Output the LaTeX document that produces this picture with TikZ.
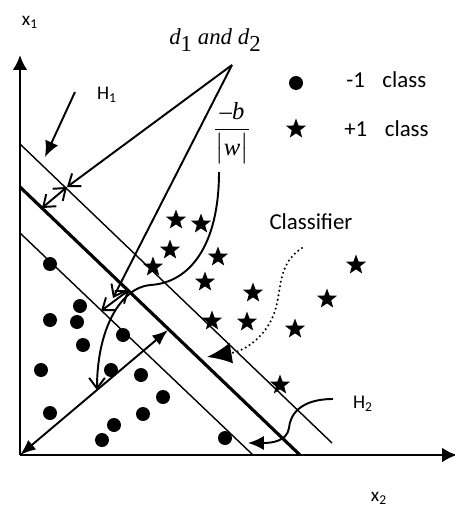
\documentclass[tikz,border=0pt]{standalone}
\usepackage{fontspec}
\setmainfont{Carlito}
\newfontfamily\tms{Liberation Serif}
\usepackage{amsmath}
\usetikzlibrary{arrows.meta,shapes.geometric}

\begin{document}
\begin{tikzpicture}[x=0.02cm,y=-0.02cm,
  every node/.style={font=\fontsize{11}{13}\selectfont,inner sep=0pt},
  lbl/.style={font=\fontsize{13}{15}\selectfont},
  plusstar/.style={star,star points=5,star point ratio=2.4,fill,minimum size=0.42cm,inner sep=0pt},
  minusdot/.style={circle,fill,minimum size=0.28cm,inner sep=0pt},
  axisline/.style={line width=1.6pt,-{Latex[length=8.5pt,width=8.5pt]}},
  hyp/.style={line width=0.8pt},
  marg/.style={line width=1.8pt},
  leader/.style={line width=1.1pt,-{Straight Barb[length=6pt,width=9pt]}},
  gap/.style={line width=1.1pt,{Straight Barb[length=6pt,width=9pt]}-{Straight Barb[length=6pt,width=9pt]}},
  pointer/.style={line width=1.1pt,-{Latex[length=9pt,width=8pt]}}
]
  \useasboundingbox (0,0) rectangle (454,507);
  % axes
  \coordinate (O) at (20,455);
  \coordinate (ytip) at (20,55);
  \coordinate (xtip) at (457,455);
  \draw[axisline] (O) -- (ytip);
  \draw[axisline] (O) -- (xtip);
  \node (x1) at (30,22) {x\textsubscript{1}};
  \node (x2) at (379,498) {x\textsubscript{2}};

  % hyperplanes
  \coordinate (u0) at (20,144); \coordinate (u1) at (332,443);
  \coordinate (m0) at (20,187); \coordinate (m1) at (300,455);
  \coordinate (l0) at (20,233); \coordinate (l1) at (253,455);
  \draw[hyp] (u0) -- (u1);
  \draw[marg] (m0) -- (m1);
  \draw[hyp] (l0) -- (l1);

  % samples
  \foreach \p [count=\i] in {(176,220),(201,224),(170,250),(218,257),(153,267),(205,282),(253,293),
      (212,321),(247,322),(356,265),(327,299),(295,329),(280,385)}
    \node[plusstar] (s\i) at \p {};
  \foreach \p [count=\i] in {(50,264),(80,306),(50,320),(77,322),(123,335),(83,345),(41,370),(111,370),
      (141,375),(163,397),(50,413),(143,414),(114,425),(102,440),(225,438)}
    \node[minusdot] (c\i) at \p {};

  % legend
  \node[minusdot] (kd) at (296,83) {};
  \node[lbl,anchor=west] (kdt) at (346,80) {-1\hspace{10pt}class};
  \node[plusstar] (ks) at (296,129) {};
  \node[lbl,anchor=west] (kst) at (344,129) {+1\hspace{10pt}class};

  % margins d1, d2
  \node[font=\tms\fontsize{13}{15}\selectfont] (dlab) at (215,40)
    {\textit{d}\raisebox{-0.6ex}{1} \textit{and d}\raisebox{-0.6ex}{2}};
  \coordinate (apex) at (232,65);
  \coordinate (d1a) at (67,187); \coordinate (d1b) at (42,208);
  \coordinate (d2m) at (113,298);
  \coordinate (d2a) at (129,290); \coordinate (d2b) at (101,311);
  \draw[leader] (apex) -- (d1a);
  \draw[gap] (d1a) -- (d1b);
  \draw[leader] (apex) -- (d2m);
  \draw[gap] (d2a) -- (d2b);

  % offset -b/|w|
  \node[font=\tms\itshape\fontsize{14}{16}\selectfont] (frac) at (232,133)
    {$\dfrac{\text{–b}}{\bigl|\text{w}\bigr|}$};
  \coordinate (fb) at (219,172);
  \coordinate (bw) at (168,330);
  \coordinate (ow) at (97,390);
  \draw[line width=1.1pt,{Latex[length=9pt,width=7pt]}-{Latex[length=9pt,width=7pt]}] (O) -- (bw);
  \draw[leader] (fb) .. controls (219,245) and (190,283) .. (150,285)
    .. controls (120,288) and (97,330) .. (ow);

  % H1, H2
  \node (h1) at (107,95) {H\textsubscript{1}};
  \coordinate (h1s) at (75,92); \coordinate (h1t) at (45,157);
  \draw[pointer] (h1s) -- (h1t);
  \node (h2) at (363,404) {H\textsubscript{2}};
  \coordinate (h2s) at (333,399); \coordinate (h2t) at (248,443);
  \draw[pointer] (h2s) .. controls (300,399) and (290,415) .. (289,428)
    .. controls (287,442) and (270,443) .. (h2t);

  % classifier
  \node[lbl] (cls) at (311,222) {Classifier};
  \coordinate (cs) at (302,248); \coordinate (ct) at (207,357);
  \draw[line width=1.3pt,line cap=round,dash pattern=on 0pt off 2.6pt,-{Latex[length=14pt,width=12pt]}]
    (cs) .. controls (280,262) and (281,285) .. (277,303)
    .. controls (272,330) and (250,350) .. (ct);
\end{tikzpicture}
\end{document}
